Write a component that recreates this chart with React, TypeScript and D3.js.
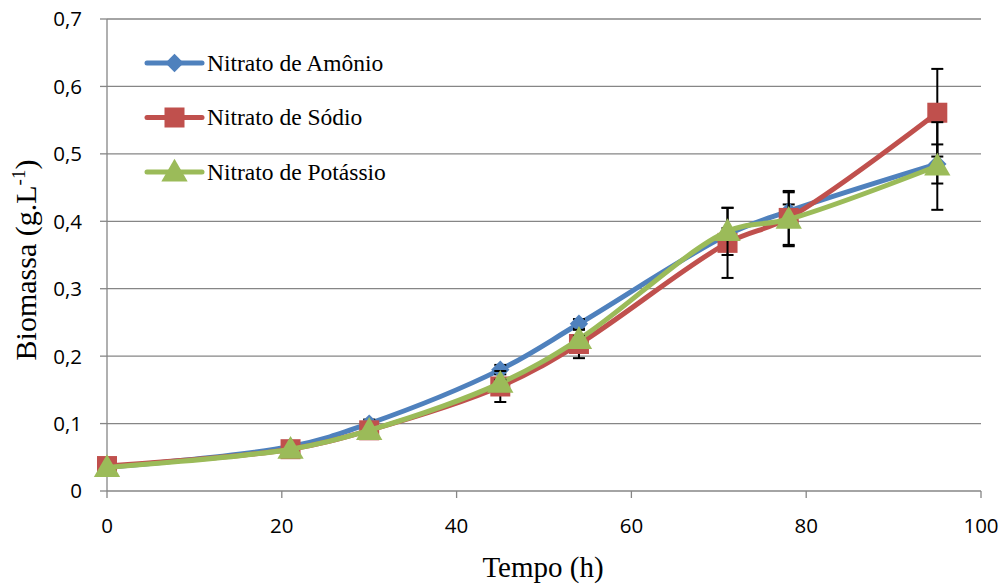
import * as d3 from 'd3';

// Sampling times (h)
const tempo = [0, 21, 30, 45, 54, 71, 78, 95];

// Biomass (g/L) per nitrogen source
const amonio = [0.035, 0.066, 0.1, 0.18, 0.248, 0.38, 0.415, 0.485];
const sodio = [0.037, 0.062, 0.09, 0.155, 0.218, 0.368, 0.405, 0.561];
const potassio = [0.035, 0.062, 0.09, 0.16, 0.225, 0.385, 0.403, 0.482];

// Standard deviations (error bars)
const erroAmonio = [0, 0, 0.006, 0.007, 0.007, 0.01, 0.01, 0.029];
const erroSodio = [0, 0, 0.004, 0.023, 0.021, 0.052, 0.04, 0.065];
const erroPotassio = [0, 0, 0, 0.005, 0.005, 0.035, 0.04, 0.065];

const xTicks = [0, 20, 40, 60, 80, 100];
const yTicks = [0, 0.1, 0.2, 0.3, 0.4, 0.5, 0.6, 0.7];

interface Serie {
  name: string;
  values: number[];
  errors: number[];
  color: string;
  marker: 'diamond' | 'square' | 'triangle';
}

const series: Serie[] = [
  { name: 'Nitrato de Amônio', values: amonio, errors: erroAmonio, color: '#4f81bd', marker: 'diamond' },
  { name: 'Nitrato de Sódio', values: sodio, errors: erroSodio, color: '#c0504d', marker: 'square' },
  { name: 'Nitrato de Potássio', values: potassio, errors: erroPotassio, color: '#9bbb59', marker: 'triangle' },
];

const W = 1005;
const H = 586;
const margin = { top: 19, right: 24, bottom: 95, left: 107 };
const innerW = W - margin.left - margin.right;
const innerH = H - margin.top - margin.bottom;

const x = d3.scaleLinear().domain([0, 100]).range([0, innerW]);
const y = d3.scaleLinear().domain([0, 0.7]).range([innerH, 0]);

const axisColor = '#868686';
const serif = '"Liberation Serif", "Times New Roman", serif';
const sans = '"Open Sans", "Liberation Sans", sans-serif';

function Marker({ type, cx, cy, color }: { type: Serie['marker']; cx: number; cy: number; color: string }) {
  if (type === 'square') {
    return <rect x={cx - 10} y={cy - 10} width={20} height={20} fill={color} />;
  }
  if (type === 'triangle') {
    const p = d3.symbol(d3.symbolTriangle, 300)();
    return <path d={p || ''} transform={`translate(${cx},${cy + 2})`} fill={color} />;
  }
  // diamond: a rotated square, as in the spreadsheet marker
  return <rect x={-6.5} y={-6.5} width={13} height={13} fill={color} transform={`translate(${cx},${cy}) rotate(45)`} />;
}

export default function App() {
  const line = d3
    .line<number>()
    .x((_, i) => x(tempo[i]))
    .y(d => y(d))
    .curve(d3.curveCatmullRom.alpha(0.5));

  const fmt = (v: number) => (v === 0 ? '0' : v.toFixed(1).replace('.', ','));

  return (
    <svg width={W} height={H} style={{ position: 'absolute', left: 0, top: 0, background: '#fff' }}>
      <g transform={`translate(${margin.left},${margin.top})`}>
        {/* gridlines */}
        {yTicks.slice(1).map(t => (
          <line key={t} x1={0} x2={innerW} y1={y(t)} y2={y(t)} stroke={axisColor} strokeWidth={1.3} />
        ))}
        {/* y axis */}
        <line x1={0} x2={0} y1={0} y2={innerH} stroke={axisColor} strokeWidth={1.3} />
        {yTicks.map(t => (
          <g key={t}>
            <line x1={-7} x2={0} y1={y(t)} y2={y(t)} stroke={axisColor} strokeWidth={1.3} />
            <text x={-25} y={y(t)} dy="0.36em" textAnchor="end" fontFamily={sans} fontSize={20.5} fill="#000">
              {fmt(t)}
            </text>
          </g>
        ))}
        {/* x axis */}
        <line x1={0} x2={innerW} y1={innerH} y2={innerH} stroke={axisColor} strokeWidth={1.3} />
        {xTicks.map(t => (
          <g key={t}>
            <line x1={x(t)} x2={x(t)} y1={innerH} y2={innerH + 7} stroke={axisColor} strokeWidth={1.3} />
            <text x={x(t)} y={innerH + 35} dy="0.36em" textAnchor="middle" fontFamily={sans} fontSize={20.5} fill="#000">
              {t}
            </text>
          </g>
        ))}

        {/* series */}
        {series.map(s => (
          <g key={s.name}>
            <path d={line(s.values) || ''} fill="none" stroke={s.color} strokeWidth={5} strokeLinejoin="round" />
            {s.values.map((v, i) =>
              s.errors[i] > 0 ? (
                <g key={i} stroke="#000" strokeWidth={2}>
                  <line x1={x(tempo[i])} x2={x(tempo[i])} y1={y(v + s.errors[i])} y2={y(v - s.errors[i])} />
                  <line x1={x(tempo[i]) - 6} x2={x(tempo[i]) + 6} y1={y(v + s.errors[i])} y2={y(v + s.errors[i])} />
                  <line x1={x(tempo[i]) - 6} x2={x(tempo[i]) + 6} y1={y(v - s.errors[i])} y2={y(v - s.errors[i])} />
                </g>
              ) : null
            )}
            {s.values.map((v, i) => (
              <Marker key={i} type={s.marker} cx={x(tempo[i])} cy={y(v)} color={s.color} />
            ))}
          </g>
        ))}
      </g>

      {/* legend */}
      {series.map((s, i) => {
        const ly = 63 + i * 54.5;
        return (
          <g key={s.name}>
            <line x1={147} x2={202} y1={ly} y2={ly} stroke={s.color} strokeWidth={5} strokeLinecap="round" />
            <Marker type={s.marker} cx={174.5} cy={ly} color={s.color} />
            <text x={207} y={ly} dy="0.33em" fontFamily={serif} fontSize={23.5} fill="#000">
              {s.name}
            </text>
          </g>
        );
      })}

      {/* axis titles */}
      <text x={543} y={577} textAnchor="middle" fontFamily={serif} fontSize={29} fill="#000">
        Tempo (h)
      </text>
      <text transform="translate(36,260) rotate(-90)" textAnchor="middle" fontFamily={serif} fontSize={30} fill="#000">
        Biomassa (g.L
        <tspan dy="-11" fontSize={19}>-1</tspan>
        <tspan dy="11">)</tspan>
      </text>
    </svg>
  );
}
